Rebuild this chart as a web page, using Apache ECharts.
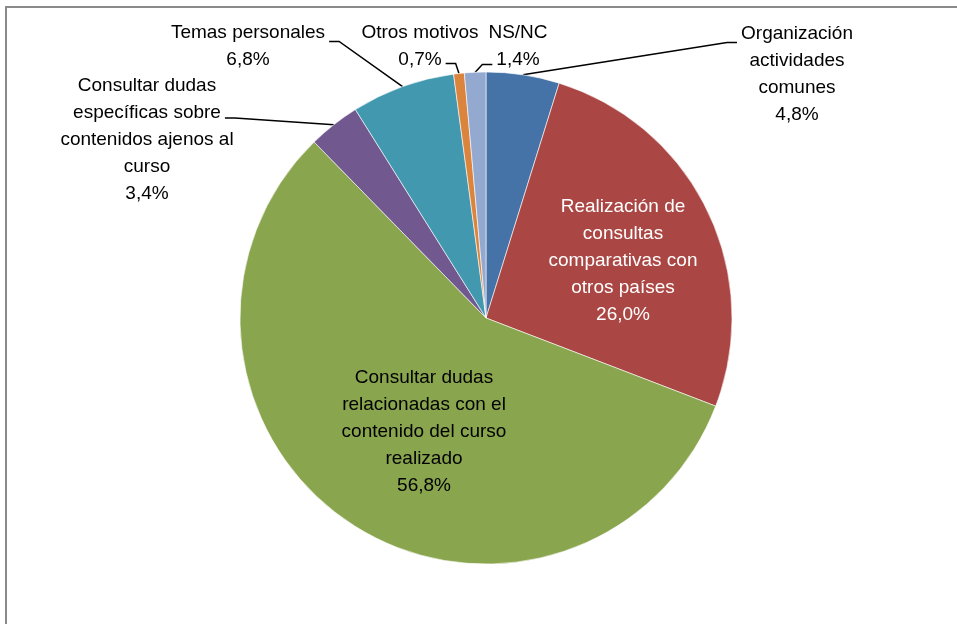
<!DOCTYPE html>
<html>
<head>
<meta charset="utf-8">
<script src="https://cdn.jsdelivr.net/npm/echarts@6/dist/echarts.min.js"></script>
<style>
  html, body { margin: 0; padding: 0; background: #ffffff; }
  #chart { width: 957px; height: 624px; }
</style>
</head>
<body>
<div id="chart"></div>
<script>
// categorias y valores (%)
var categories = [
  "Organización\nactividades\ncomunes",
  "Realización de\nconsultas\ncomparativas con\notros países",
  "Consultar dudas\nrelacionadas con el\ncontenido del curso\nrealizado",
  "Consultar dudas\nespecíficas sobre\ncontenidos ajenos al\ncurso",
  "Temas personales",
  "Otros motivos",
  "NS/NC"
];
var values = [4.8, 26.0, 56.8, 3.4, 6.8, 0.7, 1.4];
var colors = ["#4572A7", "#AA4643", "#89A54E", "#71588F", "#4198AF", "#DB843D", "#93A9CF"];
var insideLabels = [1, 2];

var FONT = "Liberation Sans";
var FONT_SIZE = 19;
var LINE_H = 27;

// posicion de las etiquetas (centro del bloque de texto)
var labelPos = [
  [797, 74], [623, 261], [424, 432], [147, 140], [248, 46], [420, 46], [518, 46]
];
// donde se engancha la linea guia: fila, lado, desplazamiento vertical
var lineHook = {
  0: { row: 0, side: "left", dy: 9 },
  3: { row: 1, side: "right", dy: 5 },
  4: { row: 0, side: "right", dy: 9 },
  5: { row: 1, side: "right", dy: 4 },
  6: { row: 1, side: "left", dy: 5 }
};

var ctx = document.createElement("canvas").getContext("2d");
ctx.font = FONT_SIZE + "px '" + FONT + "', sans-serif";

function pct(v) {
  return v.toFixed(1).replace(".", ",") + "%";
}

var chart = echarts.init(document.getElementById("chart"));

var data = categories.map(function (name, i) {
  var inside = insideLabels.indexOf(i) >= 0;
  return {
    name: name,
    value: values[i],
    itemStyle: { color: colors[i] },
    label: {
      position: inside ? "inside" : "outside",
      color: i === 1 ? "#ffffff" : "#000000"
    },
    labelLine: { show: !inside }
  };
});

var option = {
  animation: false,
  graphic: [
    {
      type: "rect",
      shape: { x: 6, y: 7, width: 1200, height: 900 },
      style: { fill: null, stroke: "#8a8a8a", lineWidth: 2 },
      silent: true
    }
  ],
  series: [
    {
      type: "pie",
      center: [486, 318],
      radius: 246,
      startAngle: 90,
      clockwise: true,
      avoidLabelOverlap: false,
      itemStyle: { borderColor: "#ffffff", borderWidth: 0.6 },
      label: {
        show: true,
        fontFamily: FONT,
        fontSize: FONT_SIZE,
        lineHeight: LINE_H,
        align: "center",
        formatter: function (p) {
          return p.name + "\n" + pct(p.value);
        }
      },
      labelLine: {
        show: true,
        length: 10,
        length2: 10,
        lineStyle: { color: "#000000", width: 1.5 }
      },
      labelLayout: function (params) {
        var i = params.dataIndex;
        var p = labelPos[i];
        var res = { x: p[0], y: p[1], align: "center", verticalAlign: "middle" };
        var hook = lineHook[i];
        if (hook && params.labelLinePoints) {
          var rows = categories[i].split("\n").concat([pct(values[i])]);
          var top = p[1] - rows.length * LINE_H / 2;
          var w = ctx.measureText(rows[hook.row]).width;
          var ly = top + (hook.row + 0.5) * LINE_H + hook.dy;
          var dir = hook.side === "left" ? -1 : 1;
          var ex = p[0] + dir * (w / 2 + 4);
          res.labelLinePoints = [
            params.labelLinePoints[0],
            [ex + dir * 10, ly],
            [ex, ly]
          ];
        }
        return res;
      },
      data: data
    }
  ]
};

chart.setOption(option);
</script>
</body>
</html>
